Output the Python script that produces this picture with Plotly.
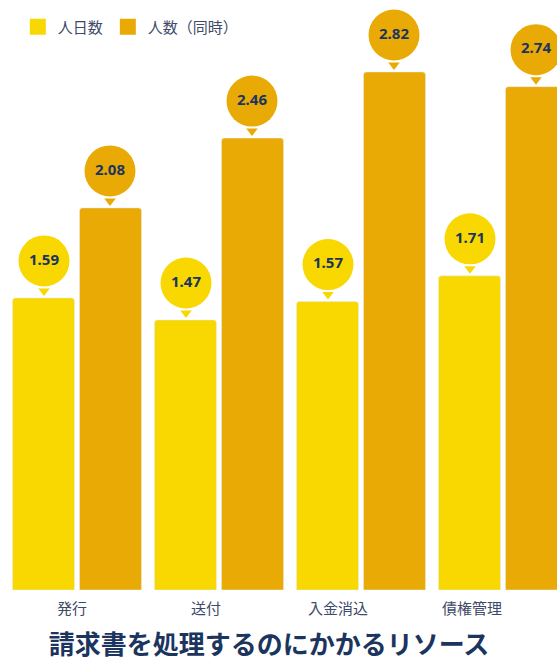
import plotly.graph_objects as go

categories = ["発行", "送付", "入金消込", "債権管理"]
series_names = ["人日数", "人数（同時）"]
person_days = [1.59, 1.47, 1.57, 1.71]
people_concurrent = [2.08, 2.46, 2.82, 2.74]
title_text = "請求書を処理するのにかかるリソース"

YELLOW = "#F8D800"
ORANGE = "#EAAA05"
NAVY = "#1B355E"
LABEL = "#3E4A68"
FONT = "Noto Sans, Noto Sans CJK JP, sans-serif"

W, H = 557, 662
MB = 72
plot_h = H - MB
px_per_unit = 183.7
y_max = plot_h / px_per_unit

group_px = 142.0
first_center_px = 77.0
x_min = -first_center_px / group_px
x_max = (W - first_center_px) / group_px

xs = list(range(len(categories)))
bar_off = 33.0 / group_px  # bar centre offset from group centre
bubble_off = 37.0 / px_per_unit
tip_off = 7.0 / px_per_unit

fig = go.Figure()
for name, vals, col, sgn in [(series_names[0], person_days, YELLOW, -1),
                             (series_names[1], people_concurrent, ORANGE, 1)]:
    fig.add_trace(go.Bar(x=xs, y=vals, name=name, marker=dict(color=col, cornerradius=3),
                         showlegend=False, hoverinfo="skip"))
    bx = [x + sgn * bar_off for x in xs]
    fig.add_trace(go.Scatter(x=bx, y=[v + tip_off for v in vals], mode="markers",
                             marker=dict(symbol="triangle-down", size=10, color=col),
                             showlegend=False, hoverinfo="skip"))
    fig.add_trace(go.Scatter(x=bx, y=[v + bubble_off for v in vals], mode="markers+text",
                             marker=dict(symbol="circle", size=51, color=col),
                             text=[f"{v:.2f}" for v in vals], textposition="middle center",
                             textfont=dict(family=FONT, size=15, color=NAVY, weight="bold"),
                             showlegend=False, hoverinfo="skip"))
    fig.add_trace(go.Scatter(x=[None], y=[None], mode="markers", name=name,
                             marker=dict(symbol="square", size=16, color=col)))

# tick label positions (slightly left of group centres as in the reference)
tick_px = [72, 206, 338, 472]
tickvals = [(p - first_center_px) / group_px for p in tick_px]

fig.update_layout(
    width=W, height=H,
    margin=dict(l=0, r=0, t=0, b=MB),
    paper_bgcolor="white", plot_bgcolor="white",
    barmode="group", bargap=0.056, bargroupgap=0.075,
    font=dict(family=FONT, color=LABEL),
    xaxis=dict(range=[x_min, x_max], tickvals=tickvals, ticktext=categories,
               showgrid=False, zeroline=False, showline=False, ticks="",
               ticklabelstandoff=8,
               tickfont=dict(size=15, color=LABEL), fixedrange=True),
    yaxis=dict(range=[0, y_max], visible=False, fixedrange=True),
    legend=dict(orientation="h", x=0.032, xanchor="left", y=0.982, yanchor="top",
                font=dict(size=15, color=LABEL), bgcolor="rgba(0,0,0,0)"),
    title=dict(text=title_text, x=0.483, xanchor="center", y=(H - 645) / H, yanchor="middle",
               yref="container",
               font=dict(family=FONT, size=26, color=NAVY, weight="bold")),
    showlegend=True,
)

fig.write_html("out.html")
